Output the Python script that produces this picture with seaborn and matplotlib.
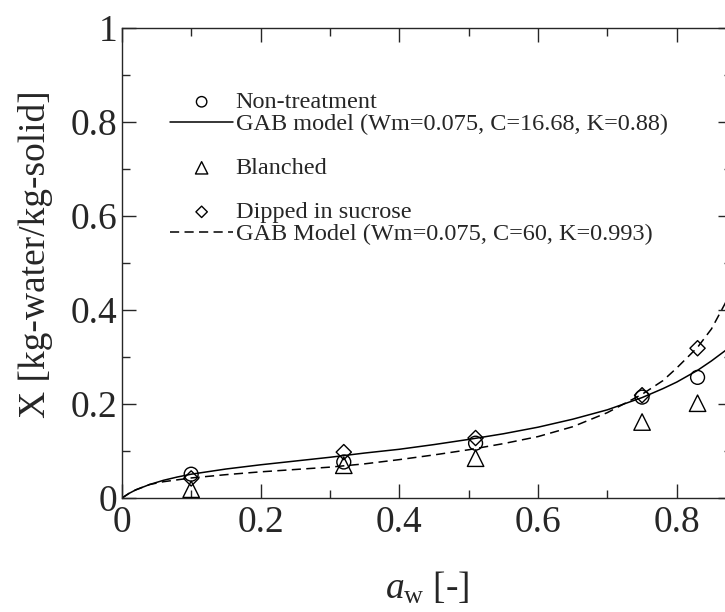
import numpy as np
import pandas as pd
import matplotlib
matplotlib.use("Agg")
import matplotlib.pyplot as plt
from matplotlib.lines import Line2D
import seaborn as sns

# ---- data ----
aw_points = [0.10, 0.32, 0.51, 0.75, 0.83]
x_non_treatment = [0.051, 0.077, 0.117, 0.215, 0.257]
x_blanched = [0.019, 0.070, 0.085, 0.162, 0.202]
x_sucrose = [0.042, 0.098, 0.128, 0.219, 0.319]

aw_curve = [0.0, 0.01, 0.02, 0.04, 0.06, 0.08, 0.10, 0.15, 0.20, 0.25, 0.30,
            0.35, 0.40, 0.45, 0.50, 0.55, 0.60, 0.65, 0.70, 0.75, 0.78,
            0.80, 0.83, 0.85, 0.87, 0.88]
x_gab_non = [0.0, 0.0098, 0.0176, 0.029, 0.038, 0.045, 0.051, 0.062, 0.071,
             0.079, 0.087, 0.096, 0.104, 0.114, 0.125, 0.137, 0.151, 0.168,
             0.188, 0.214, 0.233, 0.247, 0.272, 0.292, 0.314, 0.327]
x_gab_sucrose = [0.0, 0.0098, 0.0176, 0.029, 0.035, 0.039, 0.043, 0.050,
                 0.056, 0.061, 0.066, 0.073, 0.082, 0.092, 0.103, 0.116,
                 0.131, 0.152, 0.182, 0.221, 0.250, 0.277, 0.321, 0.360,
                 0.415, 0.450]

x_ticks = [0, 0.2, 0.4, 0.6, 0.8]
x_ticklabels = ["0", "0.2", "0.4", "0.6", "0.8"]
y_ticks = [0, 0.2, 0.4, 0.6, 0.8, 1.0]
y_ticklabels = ["0", "0.2", "0.4", "0.6", "0.8", "1"]

lbl_non = "Non-treatment"
lbl_gab_non = "GAB model (Wm=0.075, C=16.68, K=0.88)"
lbl_bl = "Blanched"
lbl_suc = "Dipped in sucrose"
lbl_gab_suc = "GAB Model (Wm=0.075, C=60, K=0.993)"

# ---- style ----
sns.set_style("ticks")
plt.rcParams["font.family"] = ["Liberation Serif", "DejaVu Serif"]
plt.rcParams["mathtext.fontset"] = "custom"
plt.rcParams["mathtext.rm"] = "Liberation Serif"
plt.rcParams["mathtext.it"] = "Liberation Serif:italic"

fig = plt.figure(figsize=(7.25, 6.12), dpi=100)
ax = fig.add_axes([0.168, 0.186, 0.842, 0.768])

curves = pd.DataFrame({"aw": aw_curve, "non": x_gab_non, "suc": x_gab_sucrose})
pts = pd.DataFrame({"aw": aw_points, "non": x_non_treatment,
                    "bl": x_blanched, "suc": x_sucrose})

lw = 1.1
sns.lineplot(data=curves, x="aw", y="non", ax=ax, color="black", lw=lw,
             label=lbl_gab_non, estimator=None, sort=False)
sns.lineplot(data=curves, x="aw", y="suc", ax=ax, color="black", lw=lw,
             label=lbl_gab_suc, estimator=None, sort=False, dashes=False)
ax.lines[-1].set_dashes((6, 3.5))

mk = dict(facecolor="none", edgecolor="black", linewidth=1.0, zorder=3)
sns.scatterplot(data=pts, x="aw", y="non", ax=ax, marker="o", s=100,
                label=lbl_non, **mk)
sns.scatterplot(data=pts, x="aw", y="bl", ax=ax, marker="^", s=140,
                label=lbl_bl, **mk)
sns.scatterplot(data=pts, x="aw", y="suc", ax=ax, marker="D", s=60,
                label=lbl_suc, **mk)

ax.set_xlim(0, 0.88)
ax.set_ylim(0, 1.0)
ax.set_xticks(x_ticks)
ax.set_xticklabels(x_ticklabels)
ax.set_xticks([0.1, 0.3, 0.5, 0.7], minor=True)
ax.set_yticks(y_ticks)
ax.set_yticklabels(y_ticklabels)
ax.tick_params(which="both", direction="in", top=True, right=True,
               width=1.0, labelsize=27)
ax.set_yticks([0.1, 0.3, 0.5, 0.7, 0.9], minor=True)
ax.tick_params(axis="x", which="major", pad=5)
ax.tick_params(axis="y", which="major", pad=3)
ax.tick_params(which="major", length=10)
ax.tick_params(which="minor", length=6)
for s in ax.spines.values():
    s.set_linewidth(1.0)
    s.set_visible(True)

ax.set_xlabel(r"$a_{\mathrm{w}}$ [-]", fontsize=27, labelpad=22)
ax.set_ylabel("X [kg-water/kg-solid]", fontsize=27)
ax.yaxis.set_label_coords(-0.112, 0.52)

# legend with blank spacer rows
h, l = ax.get_legend_handles_labels()
hd = dict(zip(l, h))
blank = Line2D([], [], linestyle="none", marker=None)
handles = [hd[lbl_non], hd[lbl_gab_non], blank, hd[lbl_bl], blank,
           hd[lbl_suc], hd[lbl_gab_suc]]
labels = [lbl_non, lbl_gab_non, " ", lbl_bl, " ", lbl_suc, lbl_gab_suc]
ax.legend(handles, labels, loc="upper left", bbox_to_anchor=(0.079, 0.866),
          frameon=False, fontsize=17.5, handlelength=2.6, handletextpad=0.1,
          labelspacing=0.0, borderpad=0, borderaxespad=0,
          markerscale=0.75, scatterpoints=1)

fig.savefig("out.png", dpi=100)
